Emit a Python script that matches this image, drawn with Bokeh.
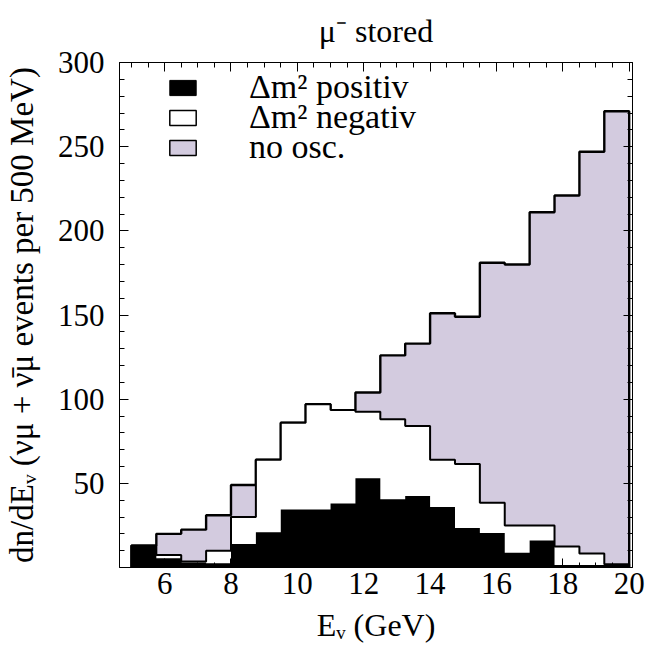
import numpy as np
from bokeh.plotting import figure
from bokeh.models import (Range1d, LinearAxis, FixedTicker, CustomJSTickFormatter,
                          Legend, LegendItem)
from bokeh.embed import file_html
from bokeh.resources import INLINE

# ---------------- data ----------------
bin_start = 5.0          # GeV, first bin edge
bin_width = 0.75         # GeV
no_osc  = [13, 20, 22.5, 31, 49, 64, 86, 97, 93.5, 104, 126, 133, 151, 149, 181, 180, 211, 221, 247, 271]
dm2_neg = [13, 7.5, 3.5, 10, 30, 64, 86, 97, 93.5, 92.5, 88, 84, 64, 61.5, 38.5, 25, 25, 12.5, 8.3, 2]
dm2_pos = [13, 5.5, 3, 2.5, 14, 21, 34.5, 34.5, 38, 53, 40.5, 42.5, 36, 23.5, 20.5, 8.7, 16, 1.5, 1.5, 1.5]
x_ticks = [6, 8, 10, 12, 14, 16, 18, 20]
y_ticks = [50, 100, 150, 200, 250, 300]
legend_labels = ["Δm² positiv", "Δm² negativ", "no osc."]
title_text = "μ⁻ stored"
x_title = "Eᵥ (GeV)"
y_title = "dn/dEᵥ (νμ + ν\u0304μ events per 500 MeV)"

# ---------------- layout / style ----------------
W, H = 646, 645
FONT = "Liberation Serif"
LAV = "#d3cbdf"

edges = [bin_start + i * bin_width for i in range(len(no_osc) + 1)]


def step_y(vals):
    return list(vals) + [vals[-1]]


def outline(vals):
    xs, ys = [edges[0]], [0]
    for i, v in enumerate(vals):
        xs += [edges[i], edges[i + 1]]
        ys += [v, v]
    xs.append(edges[-1]); ys.append(0)
    return xs, ys


p = figure(width=W, height=H, x_range=Range1d(4.64, 20.1), y_range=Range1d(0, 300),
           output_backend="svg", toolbar_location=None,
           min_border_left=118, min_border_right=14, min_border_top=62, min_border_bottom=77)
p.grid.visible = False
p.outline_line_color = "black"
p.outline_line_width = 1
p.background_fill_color = "white"
p.border_fill_color = "white"

p.title.text = title_text
p.title.text_font = FONT
p.title.text_font_size = "32px"
p.title.text_font_style = "normal"
p.title.align = "center"
p.title.vertical_align = "top"
p.title.text_color = "black"
p.title.standoff = 23

xt = FixedTicker(ticks=x_ticks, minor_ticks=[5 + 0.5 * k for k in range(31)])
yt = FixedTicker(ticks=y_ticks, minor_ticks=list(range(10, 300, 10)))

xa = p.below[0]
ya = p.left[0]
xa.ticker = xt
ya.ticker = yt
top_ax = LinearAxis(ticker=xt, formatter=CustomJSTickFormatter(code="return ''"), major_label_standoff=0)
right_ax = LinearAxis(ticker=yt, formatter=CustomJSTickFormatter(code="return ''"), major_label_standoff=0)
p.add_layout(top_ax, "above")
p.add_layout(right_ax, "right")
for ax in [xa, ya, top_ax, right_ax]:
    ax.axis_line_color = "black"
    ax.major_tick_line_color = "black"
    ax.minor_tick_line_color = "black"
    ax.major_tick_in = 9
    ax.major_tick_out = 0
    ax.minor_tick_in = 5
    ax.minor_tick_out = 0
    ax.major_label_text_font = FONT
    ax.major_label_text_font_size = "31px"
    ax.major_label_text_color = "black"

xa.major_label_standoff = 5
xa.axis_label = x_title
xa.axis_label_text_font = FONT
xa.axis_label_text_font_size = "32px"
xa.axis_label_text_font_style = "normal"
xa.axis_label_text_color = "black"
xa.axis_label_standoff = 10

ya.major_label_standoff = 15
ya.axis_label = y_title
ya.axis_label_text_font = FONT
ya.axis_label_text_font_size = "33px"
ya.axis_label_text_font_style = "normal"
ya.axis_label_text_color = "black"
ya.axis_label_standoff = 15

# histograms (single stepped areas, then outlines)
p.varea_step(x=edges, y1=0, y2=step_y(no_osc), step_mode="after", fill_color=LAV)
xs, ys = outline(no_osc)
p.line(xs, ys, line_color="black", line_width=2.4)
p.varea_step(x=edges, y1=0, y2=step_y(dm2_neg), step_mode="after", fill_color="white")
xs, ys = outline(dm2_neg)
p.line(xs, ys, line_color="black", line_width=2)
p.varea_step(x=edges, y1=0, y2=step_y(dm2_pos), step_mode="after", fill_color="black")

# legend swatches (no data of their own)
nan = np.array([np.nan])
sw_pos = p.quad(left=nan, right=nan, bottom=nan, top=nan, fill_color="black", line_color="black", line_width=1)
sw_neg = p.quad(left=nan, right=nan, bottom=nan, top=nan, fill_color="white", line_color="black", line_width=1.5)
sw_no = p.quad(left=nan, right=nan, bottom=nan, top=nan, fill_color=LAV, line_color="black", line_width=1.5)

for lab, sw, vy in zip(legend_labels, [sw_pos, sw_neg, sw_no], [461, 431, 401]):
    lg = Legend(items=[LegendItem(label=lab, renderers=[sw])],
                location=(47, vy), glyph_width=33, glyph_height=19, label_standoff=50,
                label_text_font=FONT, label_text_font_size="34px", label_text_color="black",
                padding=0, margin=0, border_line_color=None, background_fill_alpha=0)
    p.add_layout(lg)

open("out.html", "w").write(file_html(p, INLINE))
